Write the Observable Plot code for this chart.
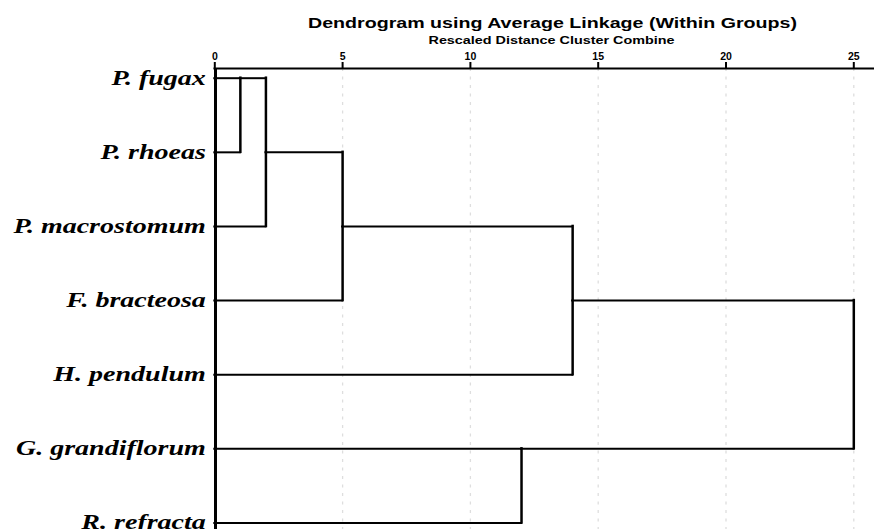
<!DOCTYPE html>
<html><head><meta charset="utf-8">
<script src="https://cdn.jsdelivr.net/npm/d3@7"></script>
<script src="https://cdn.jsdelivr.net/npm/@observablehq/plot@0.6"></script>
<style>body{margin:0;background:#fff} svg{display:block}</style>
</head><body><div id="chart"></div>
<script>
const title = "Dendrogram using Average Linkage (Within Groups)";
const subtitle = "Rescaled Distance Cluster Combine";
const leaves = ["P. fugax", "P. rhoeas", "P. macrostomum", "F. bracteosa", "H. pendulum", "G. grandiflorum", "R. refracta"];
const tickValues = [0, 5, 10, 15, 20, 25];
// merges: node ids 0..6 are leaves, 7.. are merged clusters in order
const mergeLeft = [0, 7, 8, 9, 5, 10];
const mergeRight = [1, 2, 3, 4, 6, 11];
const mergeDistance = [1, 2, 5, 14, 12, 25];

// dendrogram layout (SPSS style: cluster drawn at floor of mean row)
const row = leaves.map((_, i) => i);
const level = leaves.map(() => 0);
const horizontals = [], verticals = [];
mergeDistance.forEach((d, k) => {
  const a = mergeLeft[k], b = mergeRight[k];
  [a, b].forEach(c => horizontals.push({y: row[c], x1: level[c], x2: d}));
  verticals.push({x: d, y1: row[a], y2: row[b]});
  row.push(Math.floor((row[a] + row[b]) / 2));
  level.push(d);
});

const sans = "Liberation Sans, Arial, sans-serif";
const serif = "Liberation Serif, Times New Roman, serif";

const chart = Plot.plot({
  width: 874, height: 529,
  marginTop: 68, marginLeft: 214, marginRight: 0, marginBottom: 0,
  x: {domain: [0, 25], range: [214.3, 853.3], axis: null},
  y: {domain: [0, 6], range: [77.7, 522.5], axis: null},
  style: {background: "white", overflow: "visible", color: "black"},
  marks: [
    Plot.gridX(tickValues.slice(1), {stroke: "#dedede", strokeOpacity: 1, strokeWidth: 1.3, strokeDasharray: "3,5.5"}),
    Plot.frame({anchor: "top", strokeWidth: 2, stroke: "black"}),
    Plot.axisX(tickValues, {anchor: "top", tickSize: 7, tickPadding: 2, strokeWidth: 2, fontSize: 10.5, fontWeight: "bold", fontFamily: sans, label: null, fill: "black"}),
    Plot.ruleX([0], {stroke: "black", strokeWidth: 3, dx: 0.7}),
    Plot.ruleY(horizontals, {y: "y", x1: "x1", x2: "x2", stroke: "black", strokeWidth: 2, strokeLinecap: "square"}),
    Plot.ruleX(verticals, {x: "x", y1: "y1", y2: "y2", stroke: "black", strokeWidth: 2.5, strokeLinecap: "square"}),
    Plot.text(leaves, {x: 0, y: (d, i) => i, text: d => d, textAnchor: "end", dx: -9, fontSize: 20, fontWeight: "bold", fontStyle: "italic", fontFamily: serif, fill: "black"}),
    Plot.text([title], {frameAnchor: "top", text: d => d, dx: 8, dy: -40.7, lineAnchor: "bottom", fontSize: 15, fontWeight: "bold", fontFamily: sans, fill: "black"}),
    Plot.text([subtitle], {frameAnchor: "top", text: d => d, dx: 7, dy: -25, lineAnchor: "bottom", fontSize: 10, fontWeight: "bold", fontFamily: sans, fill: "black"})
  ]
});
document.getElementById("chart").append(chart);

const svg = d3.select(chart);
const texts = svg.selectAll("text");
texts.filter(function() { return this.textContent === title; })
  .attr("textLength", 489).attr("lengthAdjust", "spacingAndGlyphs");
texts.filter(function() { return this.textContent === subtitle; })
  .attr("textLength", 246).attr("lengthAdjust", "spacingAndGlyphs");
texts.filter(function() { return leaves.includes(this.textContent); }).each(function() {
  const len = this.getComputedTextLength();
  d3.select(this).attr("textLength", len * 1.4).attr("lengthAdjust", "spacingAndGlyphs");
});
</script>
</body></html>
